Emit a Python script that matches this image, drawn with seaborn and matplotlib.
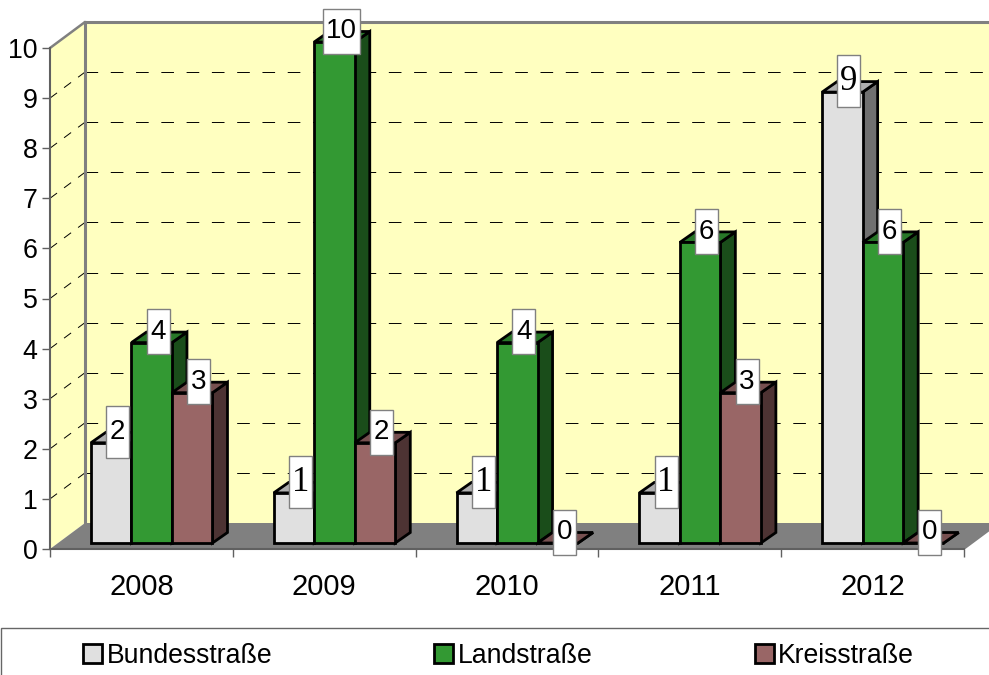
import matplotlib
matplotlib.use("Agg")
import matplotlib.pyplot as plt
from matplotlib.patches import Polygon, Rectangle, Patch
from matplotlib.transforms import Affine2D, IdentityTransform
from matplotlib.colors import to_rgb
import pandas as pd
import seaborn as sns

years = ["2008", "2009", "2010", "2011", "2012"]
bundesstrasse = [2, 1, 1, 1, 9]
landstrasse = [4, 10, 4, 6, 6]
kreisstrasse = [3, 2, 0, 3, 0]
series_names = ["Bundesstraße", "Landstraße", "Kreisstraße"]
series_colors = ["#E0E0E0", "#339933", "#996666"]

sns.set_theme(style="white")
plt.rcParams["font.family"] = ["Liberation Sans", "DejaVu Sans"]
FS = 20
LEG_FS = 19.2
W, H = 989, 675
EDGE = 2.0
fig = plt.figure(figsize=(W / 100, H / 100), dpi=100, facecolor="white")
ax = fig.add_axes([50 / W, (H - 549) / H, 914 / W, 501 / H])
ax.patch.set_visible(False)

df = pd.DataFrame({"year": years * 3,
                   "count": bundesstrasse + landstrasse + kreisstrasse,
                   "road": [n for n in series_names for _ in years]})
sns.barplot(data=df, x="year", y="count", hue="road", hue_order=series_names,
            palette=series_colors, saturation=1, width=0.665, gap=0, dodge=True,
            edgecolor="black", linewidth=EDGE, legend=False, ax=ax)
ax.set_xlim(-0.5, 4.5)
ax.set_ylim(0, 10)
ax.set_xlabel("")
ax.set_ylabel("")

BAR_DX, BAR_DY = 10.3, 6.0       # plane of the bars, display px
BACK_DX, BACK_DY = 35.0, 26.0    # back wall, display px
DEPTH_DX, DEPTH_DY = 15.0, 10.5  # bar depth, display px
ident = IdentityTransform()


def disp(x, y, dx=0.0, dy=0.0):
    p = ax.transData.transform((x, y))
    return (p[0] + dx, p[1] + dy)


def poly(points, **kw):
    kw.setdefault("clip_on", False)
    ax.add_patch(Polygon(points, closed=True, transform=ident, **kw))


WALL = "#FFFFC0"
GREY = "#808080"
x0, x1 = -0.5, 4.5
# back wall, side wall, floor
poly([disp(x0, 0, BACK_DX, BACK_DY), disp(x1, 0, BACK_DX, BACK_DY),
      disp(x1, 10, BACK_DX, BACK_DY), disp(x0, 10, BACK_DX, BACK_DY)],
     facecolor=WALL, edgecolor="none", zorder=1)
poly([disp(x0, 0), disp(x0, 0, BACK_DX, BACK_DY),
      disp(x0, 10, BACK_DX, BACK_DY), disp(x0, 10)],
     facecolor=WALL, edgecolor="none", zorder=1)
poly([disp(x0, 0), disp(x1, 0), disp(x1, 0, BACK_DX, BACK_DY), disp(x0, 0, BACK_DX, BACK_DY)],
     facecolor=GREY, edgecolor="none", zorder=2)

# dashed gridlines on both walls
for v in range(1, 10):
    a, b, c = disp(x0, v), disp(x0, v, BACK_DX, BACK_DY), disp(x1, v, BACK_DX, BACK_DY)
    ax.plot([a[0], b[0]], [a[1], b[1]], transform=ident, color="black", lw=0.7,
            dashes=(9, 9), clip_on=False, zorder=2)
    ax.plot([b[0], c[0]], [b[1], c[1]], transform=ident, color="black", lw=0.7,
            dashes=(13, 13), clip_on=False, zorder=2)

# wall outlines
ax.plot(*zip(disp(x0, 10), disp(x0, 10, BACK_DX, BACK_DY)), transform=ident, color=GREY, lw=1.8,
        clip_on=False, zorder=3)
ax.plot(*zip(disp(x0, 10, BACK_DX, BACK_DY), disp(x1, 10, BACK_DX, BACK_DY)), transform=ident, color=GREY,
        lw=2.2, clip_on=False, zorder=3, solid_capstyle="projecting")
ax.plot(*zip(disp(x0, 10, BACK_DX, BACK_DY), disp(x0, 0, BACK_DX, BACK_DY)), transform=ident, color=GREY,
        lw=2.2, clip_on=False, zorder=3, solid_capstyle="projecting")
ax.plot(*zip(disp(x1, 0), disp(x1, 0, BACK_DX, BACK_DY)), transform=ident, color=GREY, lw=1.2,
        clip_on=False, zorder=3)


def shade(color, f):
    return tuple(c * f for c in to_rgb(color))


bar_tf = ax.transData + Affine2D().translate(BAR_DX, BAR_DY)
for s, container in enumerate(ax.containers):
    color = series_colors[s]
    for bar in container:
        px, w, h = bar.get_x(), bar.get_width(), bar.get_height()
        z = 10 + 3 * s
        bar.set_transform(bar_tf)
        bar.set_clip_on(False)
        bar.set_zorder(z + 2)
        bar.set_joinstyle("miter")
        bl = disp(px, 0, BAR_DX, BAR_DY)
        br = disp(px + w, 0, BAR_DX, BAR_DY)
        tl = disp(px, h, BAR_DX, BAR_DY)
        tr = disp(px + w, h, BAR_DX, BAR_DY)
        poly([br, (br[0] + DEPTH_DX, br[1] + DEPTH_DY), (tr[0] + DEPTH_DX, tr[1] + DEPTH_DY), tr],
             facecolor=shade(color, 0.5), edgecolor="black", lw=EDGE, zorder=z, joinstyle="miter")
        poly([tl, tr, (tr[0] + DEPTH_DX, tr[1] + DEPTH_DY), (tl[0] + DEPTH_DX, tl[1] + DEPTH_DY)],
             facecolor=shade(color, 0.78), edgecolor="black", lw=EDGE, zorder=z + 1, joinstyle="miter")

        # value label box
        cx = tl[0] + w * 914 / 5 / 2 + 6.5
        cy = tl[1] + 10.8
        label = f"{int(h)}"
        serif = int(h) in (1, 9)
        tall = serif or (int(h) == 2 and s == 0)
        bw = 37 if len(label) > 1 else 23
        bh = 52 if tall else 45
        ax.add_patch(Rectangle((cx - bw / 2, cy - bh / 2), bw, bh, transform=ident, facecolor="white",
                               edgecolor=GREY, lw=1.0, clip_on=False, zorder=50))
        ax.text(cx, cy, label, transform=ident, ha="center", va="center", fontsize=25 if serif else FS,
                color="black", family=["Liberation Serif"] if serif else ["Liberation Sans"],
                zorder=51, clip_on=False)

# axes furniture
for name in ("top", "right"):
    ax.spines[name].set_visible(False)
ax.spines["left"].set_color("#606060")
ax.spines["left"].set_linewidth(1.5)
ax.spines["bottom"].set_color("#606060")
ax.spines["bottom"].set_linewidth(1.5)
for sp in ax.spines.values():
    sp.set_zorder(4)
ax.set_yticks(range(0, 11))
ax.tick_params(axis="y", which="major", left=True, length=6, width=1.0, color="#606060",
               labelsize=19.3, labelcolor="black", pad=3)
ax.set_xticks(range(len(years)), years)
ax.tick_params(axis="x", which="major", bottom=False, labelsize=21, labelcolor="black", pad=11)
ax.set_xticks([x0 + i for i in range(len(years) + 1)], minor=True)
ax.tick_params(axis="x", which="minor", bottom=True, length=6, width=1.0, color="#606060")

# legend
fig.add_artist(Rectangle((0.5, -20), W + 20, 20 + H - 628, transform=ident, facecolor="white",
                         edgecolor="#666666", lw=1.0))
handles = [Patch(facecolor=c, edgecolor="black", linewidth=EDGE) for c in series_colors]
fig.legend(handles, series_names, ncol=3, loc="center left",
           bbox_to_anchor=(83 / W, (H - 656) / H), frameon=False, fontsize=LEG_FS, borderpad=0,
           borderaxespad=0, handlelength=0.71, handleheight=0.71, handletextpad=0.17,
           columnspacing=6.08, labelcolor="black")

fig.savefig("out.png", dpi=100)
